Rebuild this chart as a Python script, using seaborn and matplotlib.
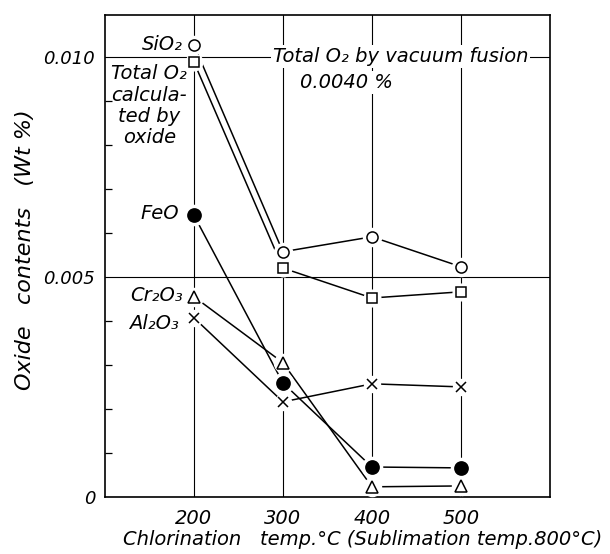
import matplotlib
matplotlib.use("Agg")
import pandas as pd
import seaborn as sns
from matplotlib import pyplot as plt

# values (Wt %)
temps = [200, 300, 400, 500]
sio2 = [0.01027, 0.00557, 0.00591, 0.00523]
total_o2 = [0.00988, 0.00520, 0.00452, 0.00466]
feo = [0.00640, 0.00259, 0.00068, 0.00066]
cr2o3 = [0.00455, 0.00305, 0.00023, 0.00025]
al2o3 = [0.00407, 0.00216, 0.00257, 0.00250]
names = ["SiO₂", "Total O₂", "FeO", "Cr₂O₃", "Al₂O₃"]
y_ticks = [0, 0.005, 0.010]
y_ticklabels = ["0", "0.005", "0.010"]
y_minor = [0.001, 0.002, 0.003, 0.004, 0.006, 0.007, 0.008, 0.009]


def plot_oxides() -> None:
    sns.set_style("ticks")
    plt.rcParams["font.family"] = ["DejaVu Sans"]
    plt.rcParams["font.style"] = "italic"
    for key in ["text.color", "axes.labelcolor", "xtick.color", "ytick.color"]:
        plt.rcParams[key] = "black"

    values = [sio2, total_o2, feo, cr2o3, al2o3]
    df = pd.DataFrame(
        [(t, v, n) for n, vals in zip(names, values) for t, v in zip(temps, vals)],
        columns=["temp", "value", "oxide"],
    )

    fig = plt.figure(figsize=(6.1, 5.54), dpi=100)
    ax = fig.add_axes([0.172, 0.103, 0.7295, 0.870])

    sns.lineplot(
        data=df, x="temp", y="value", hue="oxide", palette=["black"] * 5,
        legend=False, lw=1.1, ax=ax, zorder=3,
    )

    # marker style per series: (marker, size, face)
    styles = {
        "SiO₂": ("o", 8, "white"),
        "Total O₂": ("s", 7, "white"),
        "FeO": ("o", 9.5, "black"),
        "Cr₂O₃": ("^", 8, "white"),
        "Al₂O₃": ("x", 6.5, "black"),
    }
    for name, vals in zip(names, values):
        marker, ms, face = styles[name]
        # white halo so lines stop short of the symbols
        ax.plot(temps, vals, ls="none", marker="o", ms=ms + 5, color="white",
                mec="white", zorder=4)
        ax.plot(temps, vals, ls="none", marker=marker, ms=ms, mfc=face,
                mec="black", mew=1.1, zorder=5)

    ax.set_xlim(100, 600)
    ax.set_ylim(0, 0.01095)
    ax.set_xticks(temps)
    ax.set_yticks(y_ticks)
    ax.set_yticklabels(y_ticklabels)
    ax.set_yticks(y_minor, minor=True)
    ax.grid(True, which="major", color="black", lw=0.8)
    ax.tick_params(axis="x", length=0, pad=9, labelsize=14)
    ax.tick_params(axis="y", which="major", length=0, pad=7, labelsize=13)
    ax.tick_params(axis="y", which="minor", direction="in", length=5, width=0.9)
    for sp in ax.spines.values():
        sp.set_linewidth(1.2)
        sp.set_color("black")

    ax.set_xlabel("Chlorination   temp.°C (Sublimation temp.800°C)", fontsize=14)
    ax.xaxis.set_label_coords(0.578, -0.089)
    ax.xaxis.label.set_va("center")
    ax.set_ylabel("Oxide   contents   (Wt %)", fontsize=16)
    ax.yaxis.set_label_coords(-0.18, 0.512)
    ax.yaxis.label.set_va("center")

    # series labels beside the 200 °C column
    lab_kw = dict(textcoords="offset points", ha="right", va="center", fontsize=14)
    ax.annotate("SiO₂", (temps[0], sio2[0]), xytext=(-8, 0), **lab_kw)
    ax.annotate("FeO", (temps[0], feo[0]), xytext=(-11, 1), **lab_kw)
    ax.annotate("Cr₂O₃", (temps[0], cr2o3[0]), xytext=(-8, 1), **lab_kw)
    ax.annotate("Al₂O₃", (temps[0], al2o3[0]), xytext=(-11, -4), **lab_kw)
    ax.text(150, 0.00889, "Total O₂\ncalcula-\nted by\noxide", ha="center",
            va="center", fontsize=14, linespacing=1.15)

    box = dict(fc="white", ec="none", pad=1.5)
    ax.text(432, 0.0100, "Total O₂ by vacuum fusion", ha="center", va="center",
            fontsize=14, bbox=box, zorder=2)
    ax.text(371, 0.00941, "0.0040 %", ha="center", va="center", fontsize=14,
            bbox=box, zorder=2)

    fig.savefig("out.png", dpi=100)


if __name__ == "__main__":
    plot_oxides()
